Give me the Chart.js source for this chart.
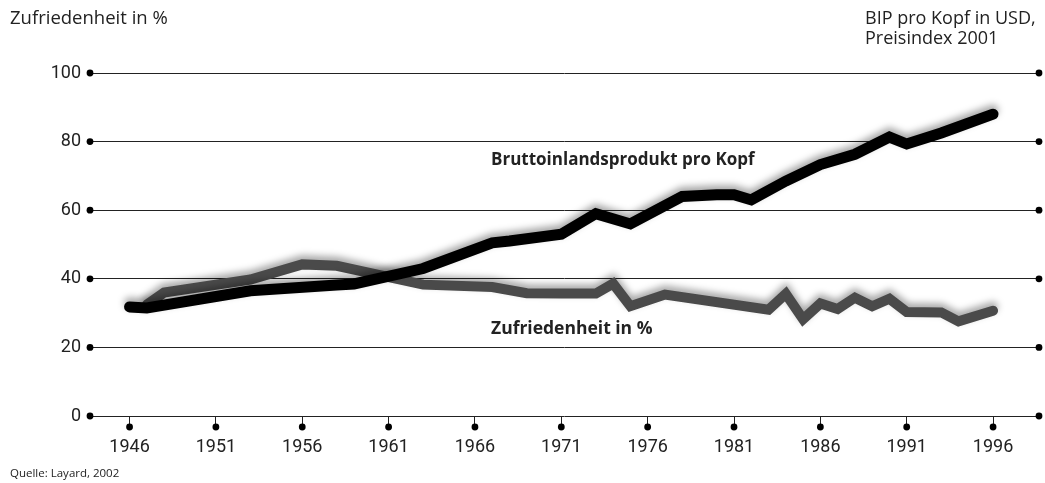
<!DOCTYPE html>
<html>
<head>
<meta charset="utf-8">
<script src="https://cdn.jsdelivr.net/npm/chart.js@4"></script>
<style>
  html, body { margin: 0; padding: 0; background: #fff; }
  #wrap { position: relative; width: 1045px; height: 483px; }
  .t { position: absolute; font-family: "Open Sans", sans-serif; color: #222; white-space: nowrap; }
</style>
</head>
<body>
<div id="wrap">
  <canvas id="c" width="1045" height="483"></canvas>
  <div class="t" style="left:10px;top:6px;font-size:18.5px;line-height:22px;">Zufriedenheit in %</div>
  <div class="t" style="left:865px;top:7px;font-size:18px;line-height:20px;">BIP pro Kopf in USD,<br>Preisindex 2001</div>
  <div class="t" style="left:10px;top:465px;font-size:11.5px;line-height:16px;">Quelle: Layard, 2002</div>
</div>
<script>
// ---- data ----
const gdpYears = [1946, 1947, 1953, 1958, 1959, 1963, 1967, 1968, 1971, 1973, 1975, 1978, 1980, 1981, 1982, 1984, 1986, 1988, 1990, 1991, 1993, 1996];
const gdpValues = [31.8, 31.5, 36.5, 38.2, 38.5, 43.0, 50.5, 51.0, 53.0, 59.0, 56.0, 64.0, 64.5, 64.5, 63.0, 68.5, 73.3, 76.3, 81.3, 79.3, 82.5, 88.0];
const happyYears = [1947, 1948, 1953, 1956, 1958, 1963, 1967, 1969, 1971, 1973, 1974, 1975, 1977, 1983, 1984, 1985, 1986, 1987, 1988, 1989, 1990, 1991, 1993, 1994, 1996];
const happyValues = [32.5, 36.0, 39.8, 44.2, 43.8, 38.3, 37.6, 35.8, 35.7, 35.7, 38.6, 32.0, 35.4, 31.0, 35.6, 28.2, 32.8, 31.2, 34.5, 32.0, 34.2, 30.3, 30.2, 27.6, 30.7];
const xTickYears = [1946, 1951, 1956, 1961, 1966, 1971, 1976, 1981, 1986, 1991, 1996];
const yTickValues = [0, 20, 40, 60, 80, 100];
const seriesLabels = ["Bruttoinlandsprodukt pro Kopf", "Zufriedenheit in %"];

const toPts = (xs, ys) => xs.map((x, i) => ({ x: x, y: ys[i] }));

const shadowPlugin = {
  id: 'shadow',
  beforeDatasetDraw(chart) {
    const ctx = chart.ctx;
    ctx.save();
    ctx.shadowColor = 'rgba(0,0,0,0.35)';
    ctx.shadowBlur = 7;
    ctx.shadowOffsetX = 0;
    ctx.shadowOffsetY = -4;
  },
  afterDatasetDraw(chart) {
    chart.ctx.restore();
  }
};

const decoPlugin = {
  id: 'deco',
  afterDraw(chart) {
    const ctx = chart.ctx;
    const xs = chart.scales.x, ys = chart.scales.y;
    const area = chart.chartArea;
    ctx.save();
    ctx.fillStyle = '#000';
    yTickValues.forEach(v => {
      const py = ys.getPixelForValue(v);
      [area.left, area.right].forEach(px => {
        ctx.beginPath(); ctx.arc(px, py, 3.4, 0, Math.PI * 2); ctx.fill();
      });
    });
    const base = ys.getPixelForValue(0);
    xTickYears.forEach(yr => {
      const px = xs.getPixelForValue(yr);
      ctx.beginPath(); ctx.arc(px, base + 11, 3.4, 0, Math.PI * 2); ctx.fill();
    });
    // series labels
    ctx.fillStyle = '#222';
    ctx.font = 'bold 17px "Open Sans", sans-serif';
    ctx.textBaseline = 'middle';
    ctx.textAlign = 'left';
    ctx.fillText(seriesLabels[0], 491, 160);
    ctx.font = 'bold 17.5px "Open Sans", sans-serif';
    ctx.fillText(seriesLabels[1], 491, 329);
    ctx.restore();
  }
};

new Chart(document.getElementById('c'), {
  type: 'line',
  data: {
    datasets: [
      {
        label: seriesLabels[0],
        data: toPts(gdpYears, gdpValues),
        borderColor: '#000',
        borderWidth: 11,
        borderCapStyle: 'round',
        borderJoinStyle: 'miter',
        pointRadius: 0,
        tension: 0,
        order: 0
      },
      {
        label: seriesLabels[1],
        data: toPts(happyYears, happyValues),
        borderColor: '#4a4a4a',
        borderWidth: 10,
        borderCapStyle: 'round',
        borderJoinStyle: 'miter',
        pointRadius: 0,
        tension: 0,
        order: 1
      }
    ]
  },
  options: {
    responsive: false,
    devicePixelRatio: 1,
    animation: false,
    layout: { padding: { left: 0, right: 6, top: 73, bottom: 0 } },
    plugins: { legend: { display: false }, tooltip: { enabled: false } },
    scales: {
      x: {
        type: 'linear',
        min: 1943.71,
        max: 1998.66,
        afterFit: s => { s.height = 67; },
        afterBuildTicks: s => { s.ticks = xTickYears.map(v => ({ value: v })); },
        border: { display: false },
        grid: { drawOnChartArea: false, drawTicks: true, tickLength: 11, color: '#222', lineWidth: 1 },
        ticks: {
          padding: 10,
          color: '#222',
          font: { family: 'Roboto', size: 18 },
          callback: v => String(v),
          maxRotation: 0
        }
      },
      y: {
        min: 0,
        max: 100,
        afterFit: s => { s.width = 90; },
        afterBuildTicks: s => { s.ticks = yTickValues.map(v => ({ value: v })); },
        border: { display: false },
        grid: { drawTicks: false, color: '#222', lineWidth: 1 },
        ticks: {
          padding: 9,
          color: '#222',
          font: { family: 'Roboto', size: 18 },
          callback: v => String(v)
        }
      }
    }
  },
  plugins: [shadowPlugin, decoPlugin]
});
</script>
</body>
</html>
